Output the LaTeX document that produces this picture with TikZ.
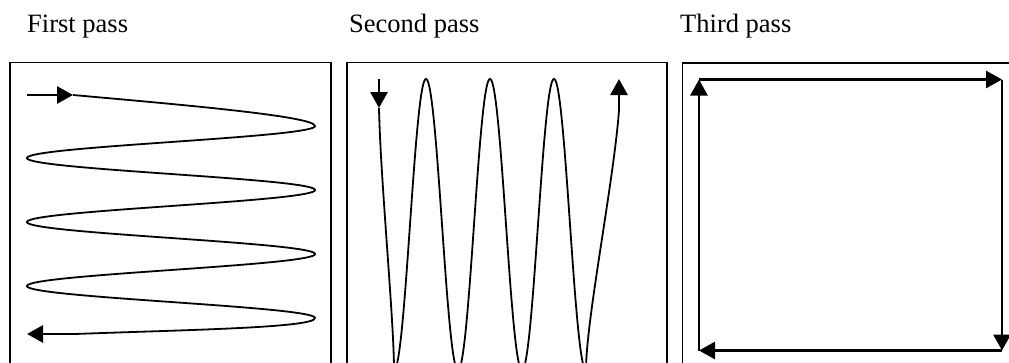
\documentclass[tikz,border=0pt]{standalone}
\usepackage{fontspec}
\setmainfont{Liberation Serif}
\usetikzlibrary{arrows.meta}
\tikzset{
    passbox/.style={line width=1.8pt},
    wave/.style={line width=1.8pt, line join=round},
    passarrow/.style={line width=2.8pt, -{Triangle[length=16pt, width=17pt]}},
    passlabel/.style={anchor=base west, inner sep=0pt, font=\fontsize{26.5}{30}\selectfont}
}

\begin{document}
\begin{tikzpicture}[x=1pt, y=-1pt]
    \clip (0,0) rectangle (1009,362);

    % labels
    \node[passlabel] (first) at (27,32) {First pass};
    \node[passlabel] (second) at (349,32) {Second pass};
    \node[passlabel] (third) at (680,32) {Third pass};

    % frames (cut off at the bottom)
    \draw[passbox] (10,62.5) rectangle (331,420);
    \draw[passbox] (347,62.5) rectangle (667,420);
    \draw[passbox] (682.5,63) rectangle (1040,420);

    % first pass
    \coordinate (a1) at (27,95);
    \coordinate (a2) at (73,95);
    \coordinate (a3) at (75,334);
    \coordinate (a4) at (27,334);
    \draw[passarrow] (a1) -- (a2);
    \draw[wave] (a2) .. controls (173,104) and (315,116) .. (315,126)
        -- plot[domain=180:1260, samples=361] ({171-144*cos(\x)}, {94+\x/180*32})
        .. controls (315,328) and (180,330) .. (a3);
    \draw[passarrow] (a3) -- (a4);

    % second pass
    \coordinate (b1) at (379,79);
    \coordinate (b2) at (379,108);
    \coordinate (b3) at (619,110);
    \coordinate (b4) at (619,79);
    \draw[passarrow] (b1) -- (b2);
    \draw[wave] (b2) .. controls (380.5,180) and (394,320) .. (394,370)
        -- plot[domain=0:1080, samples=361] ({394+\x/180*32}, {224.5+145.5*cos(\x)})
        .. controls (586,320) and (614,180) .. (b3);
    \draw[passarrow] (b3) -- (b4);

    % third pass
    \coordinate (bl) at (699,350.5);
    \coordinate (tl) at (699,79.5);
    \coordinate (tr) at (1002,79.5);
    \coordinate (br) at (1002,350.5);
    \foreach \from/\to in {bl/tl, tl/tr, tr/br, br/bl}
    {
        \draw[passarrow] (\from) -- (\to);
    }
\end{tikzpicture}
\end{document}
